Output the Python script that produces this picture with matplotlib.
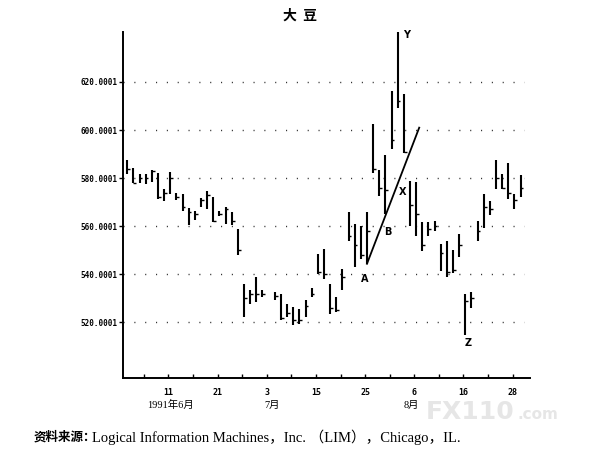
import matplotlib
matplotlib.use("Agg")
import matplotlib.pyplot as plt
import matplotlib.transforms as mtransforms

plt.rcParams['font.family'] = ['Liberation Serif', 'Noto Sans CJK SC', 'DejaVu Sans']

# trading-day index of each bar (slot 23 is the 4 July holiday)
bar_idx = list(range(0, 23)) + list(range(24, 65))

highs = [587.5, 584.4, 581.7, 581.7, 583.3, 582.3, 575.4, 582.6, 574.0, 573.4,
         567.6, 566.5, 571.7, 574.7, 572.0, 566.5, 568.1, 565.8, 558.9, 536.1,
         533.3, 539.1, 533.6,
         532.6, 532.0, 527.5, 526.4, 525.8, 529.2, 534.5, 548.5, 550.6, 536.1,
         530.6, 542.3, 565.8, 561.0, 560.2, 565.8, 602.4, 583.4, 589.6, 616.2,
         640.6, 614.8, 578.9, 578.2, 561.6, 561.6, 562.3, 552.7, 554.0, 550.2,
         556.8, 531.7, 532.6, 562.0, 573.6, 570.3, 587.5, 581.9, 586.5, 573.4,
         581.4]
lows = [581.7, 577.8, 577.8, 577.5, 578.6, 571.3, 570.6, 573.4, 570.9, 566.5,
        560.7, 562.6, 568.1, 567.2, 561.6, 564.4, 561.0, 560.7, 548.1, 522.3,
        527.8, 528.5, 530.6,
        529.2, 520.9, 522.3, 518.8, 519.5, 522.3, 530.6, 540.2, 538.2, 523.7,
        524.3, 533.6, 554.0, 543.0, 546.5, 544.4, 582.3, 572.7, 565.1, 592.0,
        609.2, 590.6, 560.3, 556.1, 549.9, 556.1, 558.2, 541.6, 538.8, 540.5,
        547.1, 514.7, 526.2, 553.7, 559.3, 564.8, 575.4, 575.4, 571.3, 567.2,
        572.3]
closes = [584, 578, 580, 580, 583, 572, 574, 580, 572, 568,
          566, 565, 571, 573, 562, 565, 567, 562, 550, 530,
          532, 532, 532,
          531, 522, 524, 521, 521, 527, 532, 541, 540, 526,
          525, 539, 556, 552, 548, 558, 584, 576, 575, 596,
          612, 591, 569, 565, 552, 559, 560, 549, 541, 542,
          552, 529, 530, 558, 568, 567, 580, 576, 574, 571,
          576]

# trend line drawn from point A upwards through B
trend_x = [39.0, 47.5]
trend_y = [544.4, 601.0]

# point labels
pt_names = ['A', 'B', 'X', 'Y', 'Z']
pt_x = [38.6, 42.4, 44.8, 45.4, 55.4]
pt_y = [538.0, 557.8, 574.2, 639.6, 511.5]

y_levels = [520, 540, 560, 580, 600, 620]
y_labels = ['520.0001', '540.0001', '560.0001', '580.0001', '600.0001', '620.0001']

x_ticks = [2.7 + 4 * k for k in range(16)]
day_labels = ['', '11', '', '21', '', '3', '', '15', '', '25', '', '6', '', '16', '', '28']

month_labels = ['1991年6月', '7月', '8月']
month_x = [7.0, 23.6, 46.3]

fig = plt.figure(figsize=(5.94, 4.5), dpi=100)
ax = fig.add_axes([0.207, 0.160, 0.685, 0.769])

# dotted reference levels
ax.hlines(y_levels, -0.7, 64.6, colors='#333333', linestyles=(0, (0.8, 7)), linewidth=1.0)

ax.vlines(bar_idx, lows, highs, colors='black', linewidth=1.5)
ax.hlines(closes, [i - 0.05 for i in bar_idx], [i + 0.45 for i in bar_idx],
          colors='black', linewidth=1.0)

ax.plot(trend_x, trend_y, color='black', linewidth=1.3)

for name, px, py in zip(pt_names, pt_x, pt_y):
    ax.text(px, py, name, fontsize=7, fontweight='bold', family='DejaVu Sans',
            ha='center', va='center')

ax.set_xlim(-0.7, 65.5)
ax.set_ylim(496.9, 640.8)

ax.spines['top'].set_visible(False)
ax.spines['right'].set_visible(False)
ax.spines['left'].set_linewidth(1.4)
ax.spines['bottom'].set_linewidth(1.4)

ax.set_yticks(y_levels)
ax.set_yticklabels(y_labels, family='DejaVu Sans Mono', fontsize=5.5, fontweight='bold')
ax.tick_params(axis='y', direction='out', length=3, width=1, pad=1)

ax.set_xticks(x_ticks)
ax.set_xticklabels(day_labels, family='DejaVu Sans Mono', fontsize=6, fontweight='bold')
ax.tick_params(axis='x', direction='in', length=3, width=1, pad=7)

trans = mtransforms.blended_transform_factory(ax.transData, ax.transAxes)
for lab, mx in zip(month_labels, month_x):
    ax.text(mx, -0.078, lab, transform=trans, fontsize=7.5, ha='center', va='center')

fig.text(0.505, 0.966, '大  豆', family=['Noto Sans CJK SC'], fontsize=10,
         fontweight='bold', ha='center', va='center')

fig.text(0.056, 0.029, '资料来源：', family=['Noto Sans CJK SC'], fontsize=9,
         fontweight='bold', ha='left', va='center')
fig.text(0.155, 0.029, 'Logical Information Machines，Inc. （LIM），Chicago，IL.',
         fontsize=10.5, ha='left', va='center')

# site watermark
fig.text(0.716, 0.068, 'FX110', family='DejaVu Sans', fontsize=18, fontweight='bold',
         color='#e6e6e6', ha='left', va='baseline')
fig.text(0.872, 0.068, '.com', family='DejaVu Sans', fontsize=11, fontweight='bold',
         color='#e6e6e6', ha='left', va='baseline')

fig.savefig('out.png', dpi=100)
